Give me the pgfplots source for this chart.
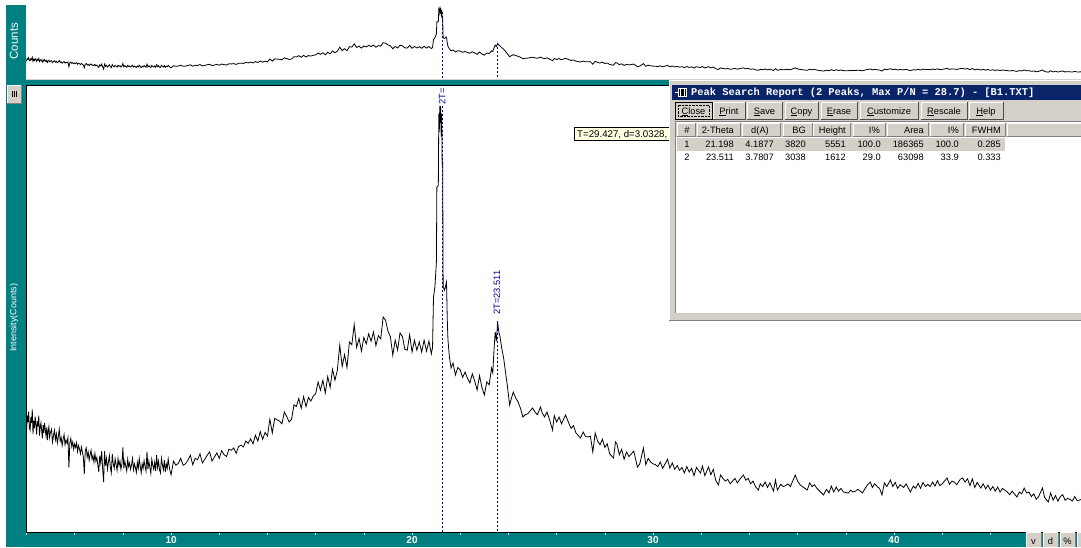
\documentclass[border=0pt]{standalone}
\usepackage{fontspec}
\usepackage{pgfplots}
\usepackage{pgfplotstable}
\pgfplotsset{compat=1.18}
\setmainfont{Liberation Sans}
\setsansfont{Liberation Sans}
\newfontfamily\winmono{Liberation Mono}
\definecolor{panel}{HTML}{008080}
\definecolor{winface}{HTML}{D4D0C8}
\definecolor{winshade}{HTML}{808080}
\definecolor{titleblue}{HTML}{0A246A}
\definecolor{tipyellow}{HTML}{FFFFE1}
\definecolor{peakblue}{HTML}{0000A0}
\newcommand{\fs}[1]{\fontsize{#1}{#1}\selectfont}

% scan: 2-theta, counts
\pgfplotstableread[row sep=\\]{
x y\\%
4.00 2180\\4.03 2560\\4.06 2420\\4.09 2650\\4.12 2300\\4.15 2240\\4.18 2520\\4.21 2400\\4.24 2700\\4.27 2160\\%
4.30 2450\\4.33 2280\\4.36 2540\\4.39 2380\\4.42 2150\\4.45 2440\\4.48 2320\\4.51 2560\\4.54 2120\\4.57 2300\\%
4.60 2400\\4.63 2240\\4.66 2060\\4.69 2350\\4.72 2180\\4.75 2400\\4.78 2250\\4.81 2120\\4.84 2300\\4.87 2020\\%
4.90 2220\\4.93 2320\\4.96 2080\\4.99 2180\\5.04 2260\\5.08 1980\\5.12 2120\\5.16 2240\\5.20 2030\\5.24 2160\\%
5.28 1960\\5.32 2090\\5.36 2260\\5.40 2000\\5.44 2080\\5.48 1900\\5.52 2040\\5.56 2140\\5.60 1920\\5.64 2020\\%
5.68 1960\\5.72 2070\\5.76 1420\\5.80 1960\\5.84 2060\\5.88 1880\\5.92 1980\\5.96 1820\\6.00 1940\\6.04 1860\\%
6.08 1960\\6.12 1770\\6.16 1900\\6.20 1820\\6.24 1720\\6.28 1870\\6.32 1760\\6.36 1640\\6.40 1280\\6.44 1790\\%
6.48 1850\\6.52 1650\\6.56 1760\\6.60 1580\\6.64 1700\\6.68 1800\\6.72 1600\\6.76 1680\\6.80 1540\\6.84 1730\\%
6.88 1560\\6.92 1640\\6.96 1480\\7.00 1320\\7.04 1680\\7.08 1520\\7.12 1780\\7.16 1400\\7.20 1100\\7.24 1780\\%
7.28 1460\\7.32 1620\\7.36 1380\\7.40 1540\\7.44 1680\\7.48 1420\\7.52 1300\\7.56 1720\\7.60 1500\\7.64 1400\\%
7.68 1610\\7.72 1480\\7.76 1360\\7.80 1620\\7.84 1460\\7.88 1560\\7.92 1380\\7.96 1500\\8.00 1860\\8.04 1400\\%
8.08 1560\\8.12 1450\\8.16 1340\\8.20 1600\\8.24 1440\\8.28 1520\\8.32 1380\\8.36 1480\\8.40 1620\\8.44 1370\\%
8.48 1500\\8.52 1420\\8.56 1310\\8.60 1530\\8.64 1400\\8.68 1620\\8.72 1450\\8.76 1300\\8.80 1500\\8.84 1400\\%
8.88 1570\\8.92 1440\\8.96 1340\\9.00 1770\\9.04 1380\\9.08 1560\\9.12 1420\\9.16 1290\\9.20 1600\\9.24 1470\\%
9.28 1380\\9.32 1530\\9.36 1340\\9.40 1690\\9.44 1420\\9.48 1560\\9.52 1370\\9.56 1300\\9.60 1620\\9.64 1480\\%
9.68 1370\\9.72 1580\\9.76 1320\\9.80 1500\\9.84 1400\\9.88 1610\\9.92 1450\\9.96 1340\\%
10.0 1260\\10.1 1560\\10.2 1470\\10.3 1510\\10.4 1620\\10.5 1470\\10.6 1500\\10.7 1580\\10.8 1690\\10.9 1480\\%
11.0 1620\\11.1 1590\\11.2 1720\\11.3 1520\\11.4 1600\\11.5 1690\\11.6 1760\\11.7 1560\\11.8 1650\\11.9 1740\\%
12.0 1620\\12.1 1790\\12.2 1700\\12.3 1660\\12.4 1820\\12.5 1800\\12.6 1850\\12.7 1730\\12.8 1880\\12.9 1910\\%
13.0 1870\\13.1 2000\\13.2 1950\\13.3 2050\\13.4 1940\\13.5 2130\\13.6 2000\\13.7 2210\\13.8 2040\\13.9 2190\\%
14.0 2110\\14.1 2480\\14.2 2180\\14.3 2500\\14.4 2470\\14.5 2440\\14.6 2380\\14.7 2640\\14.8 2540\\14.9 2420\\%
15.0 2480\\15.1 2800\\15.2 2760\\15.3 2940\\15.4 2720\\15.5 2980\\15.6 2760\\15.7 2960\\15.8 2880\\15.9 2990\\%
16.0 3040\\16.1 3300\\16.2 3120\\16.3 3340\\16.4 3060\\16.5 3420\\16.6 3180\\16.7 3580\\16.8 3340\\16.9 3560\\%
17.0 4110\\17.1 3640\\17.2 3900\\17.3 3620\\17.4 4180\\17.5 4120\\17.6 4560\\17.7 4060\\17.8 4260\\17.9 3980\\%
18.0 4280\\18.1 4140\\18.2 4360\\18.3 4200\\18.4 4400\\18.5 4100\\18.6 4320\\18.7 4250\\18.8 4730\\18.9 4660\\%
19.0 4420\\19.1 4300\\19.2 3890\\19.3 4220\\19.4 4000\\19.5 4380\\19.6 4300\\19.7 4020\\19.8 4000\\19.9 4340\\%
20.0 3960\\20.1 4220\\20.2 4000\\20.3 4180\\20.4 3960\\20.5 4220\\20.6 3980\\20.7 4200\\20.8 3920\\20.85 4060\\%
20.89 5170\\20.95 5400\\21.01 5940\\21.03 7590\\21.09 7620\\21.11 9200\\21.13 8800\\21.15 9371\\21.17 9000\\21.19 9371\\%
21.21 8700\\21.23 9200\\21.25 8100\\21.27 8120\\21.29 5390\\21.35 5320\\21.43 5500\\21.46 4700\\21.49 4224\\21.55 3850\\%
21.62 3608\\21.7 3718\\21.8 3454\\21.9 3620\\22.0 3564\\22.1 3400\\22.2 3520\\22.3 3380\\22.4 3278\\22.5 3480\\%
22.6 3320\\22.7 3124\\22.8 3440\\22.9 3180\\23.0 3014\\23.1 3300\\23.2 3240\\23.3 3608\\23.35 3500\\23.4 4004\\%
23.45 4400\\23.5 4200\\23.55 4620\\23.6 4400\\23.65 4300\\23.72 4048\\23.8 3828\\23.95 3234\\24.05 2794\\24.1 2900\\%
24.2 3080\\24.3 2950\\24.4 2860\\24.5 2720\\24.6 2530\\24.7 2580\\24.8 2600\\25.0 2728\\25.1 2640\\25.2 2580\\%
25.33 2750\\25.4 2620\\25.5 2530\\25.6 2640\\25.7 2480\\25.83 2244\\25.9 2560\\26.0 2420\\26.1 2530\\26.2 2380\\%
26.37 2574\\26.5 2400\\26.6 2280\\26.7 2340\\26.8 2180\\26.99 2068\\27.1 2200\\27.2 2100\\27.3 2090\\27.4 2110\\%
27.5 1760\\27.6 2178\\27.7 2000\\27.8 1920\\27.9 2040\\28.0 1860\\28.1 1940\\28.2 1720\\28.36 1628\\28.44 1980\\%
28.5 1940\\28.6 1700\\28.7 1820\\28.8 1600\\28.9 1760\\29.0 1660\\29.1 1720\\29.2 1780\\29.35 1430\\29.45 1500\\%
29.6 1848\\29.7 1480\\29.8 1620\\29.9 1540\\30.0 1500\\30.1 1480\\30.2 1440\\30.3 1540\\30.4 1400\\30.6 1600\\%
30.7 1408\\30.8 1520\\30.9 1380\\31.0 1460\\31.1 1360\\31.2 1420\\31.3 1300\\31.4 1440\\31.5 1320\\31.6 1400\\%
31.7 1240\\31.8 1420\\31.97 1298\\32.05 1450\\32.15 1240\\32.3 1430\\32.4 1260\\32.5 1380\\32.6 1140\\32.71 1034\\%
32.8 1254\\32.9 1180\\33.0 1120\\33.1 1160\\33.2 1060\\33.3 1120\\33.4 1180\\33.5 1080\\33.6 1160\\33.75 1254\\%
33.85 1140\\33.95 1180\\34.05 1060\\34.15 1120\\34.25 1000\\34.37 924\\34.45 1060\\34.55 1000\\34.65 1100\\34.75 980\\%
34.85 1080\\35.0 900\\35.08 1144\\35.16 924\\35.3 1050\\35.4 1000\\35.5 1020\\35.6 1060\\35.7 1000\\35.9 1254\\%
36.0 1120\\36.1 1040\\36.2 1000\\36.4 924\\36.5 1080\\36.6 1000\\36.7 1040\\36.8 960\\36.95 880\\37.07 814\\%
37.2 940\\37.3 860\\37.4 1010\\37.5 880\\37.6 990\\37.7 900\\37.8 960\\37.9 880\\38.1 858\\38.2 920\\%
38.3 880\\38.4 900\\38.5 940\\38.69 860\\38.8 960\\38.9 1040\\39.02 1100\\39.1 980\\39.2 1060\\39.3 1000\\%
39.4 960\\39.5 814\\39.6 1080\\39.7 1000\\39.85 1144\\39.95 1000\\40.05 1090\\40.15 960\\40.25 1040\\40.4 980\\%
40.5 1060\\40.68 880\\40.8 1010\\40.9 960\\41.0 1070\\41.1 960\\41.2 1090\\41.3 1000\\41.4 1050\\41.5 1000\\%
41.6 1100\\41.7 1010\\41.8 1130\\41.9 1020\\42.0 1060\\42.2 1188\\42.3 1050\\42.4 1120\\42.5 1100\\42.6 1040\\%
42.75 1160\\42.84 1188\\42.95 1100\\43.05 1170\\43.15 1020\\43.25 1170\\43.35 980\\43.45 1090\\43.6 968\\43.7 1060\\%
43.8 950\\43.9 1030\\44.0 920\\44.1 1000\\44.2 900\\44.3 990\\44.4 880\\44.5 960\\44.6 920\\44.7 880\\%
44.8 820\\44.9 900\\45.1 770\\45.2 880\\45.3 840\\45.4 968\\45.5 860\\45.6 880\\45.7 780\\45.8 840\\%
45.9 720\\46.0 780\\46.16 968\\46.25 760\\46.4 660\\46.5 860\\46.6 700\\46.7 800\\46.8 680\\46.9 780\\%
47.0 820\\47.1 700\\47.2 740\\47.3 720\\47.4 680\\47.5 780\\47.6 690\\47.7 704\\47.8 720\\%
}\scan

\begin{document}
\begin{tikzpicture}
\useasboundingbox (0,0) rectangle (1081pt,-547pt);
\clip (0,0) rectangle (1081pt,-547pt);
\fill[white] (0,0) rectangle (1081pt,-547pt);

% teal frame round the two plot areas
\begin{scope}[x=1pt,y=-1pt]
\fill[panel] (6,5) rectangle (26,547);
\fill[panel] (6,532) rectangle (1081,547);
\fill[panel] (26,79) rectangle (1081,85);
\fill[winface] (26,78.5) rectangle (1081,79.5);
\draw[black, line width=0.9pt] (26,85) -- (1081,85);
\end{scope}

% overview strip
\begin{axis}[
  at={(26pt,-79pt)}, anchor=south west, scale only axis,
  width=1055pt, height=74pt,
  xmin=3.98, xmax=47.76, ymin=-275, ymax=9922,
  axis line style={draw=none}, ticks=none,
  ylabel={Counts},
  ylabel style={at={(axis description cs:-0.0114,0.51)}, anchor=center, rotate=0,
    text=white, font=\fs{11.5}},
]
\addplot[black, line width=0.8pt] table {\scan};
\addplot[peakblue, dash pattern=on 2pt off 2pt, line width=0.5pt, xshift=1pt] coordinates {(21.198,9000) (21.198,-275)};
\addplot[peakblue, dash pattern=on 2pt off 2pt, line width=0.5pt, xshift=1pt] coordinates {(23.511,4650) (23.511,-275)};
\end{axis}

% main pattern
\begin{axis}[
  at={(26pt,-532pt)}, anchor=south west, scale only axis,
  width=1055pt, height=447pt,
  xmin=3.98, xmax=47.76, ymin=0, ymax=9834,
  axis x line*=bottom, axis y line*=left,
  axis line style={black, line width=0.8pt, -},
  ytick=\empty,
  xtick={10,20,30,40},
  minor xtick={4,6,8,12,14,16,18,22,24,26,28,32,34,36,38,42,44},
  tick style={white, line width=0.6pt},
  major tick length=3pt, minor tick length=3pt,
  tick align=outside, tick pos=bottom,
  /pgf/number format/assume math mode=true,
  xticklabel style={text=white, font=\bfseries\fs{10}, yshift=2pt},
  ylabel={Intensity(Counts)},
  ylabel style={at={(axis description cs:-0.0114,0.479)}, anchor=center, rotate=0,
    text=white, font=\fs{9}},
]
\addplot[black, line width=0.8pt] table {\scan};
\addplot[peakblue, dash pattern=on 2pt off 2pt, line width=0.5pt, xshift=1pt] coordinates {(21.198,9371) (21.198,0)};
\addplot[peakblue, dash pattern=on 2pt off 2pt, line width=0.5pt, xshift=1pt] coordinates {(23.511,4650) (23.511,0)};
\end{axis}

\begin{scope}[x=1pt,y=-1pt, every node/.style={inner sep=0pt, font=\fs{9.3}}]
% peak labels
\fill[white] (436,86) rectangle (448,104);
\node[rotate=90, text=peakblue, anchor=east] at (442,88) {2T=};
\node[rotate=90, text=peakblue, anchor=west] at (497,315) {2T=23.511};
% splitter button
\fill[winface] (7,85) rectangle (21,103);
\draw[white] (7,103) -- (7,85) -- (21,85);
\draw[winshade] (21,85) -- (21,103) -- (7,103);
\draw[black, line width=0.5pt] (12,91) -- (12,97) (14,91) -- (14,97) (16,91) -- (16,97);
% v d % buttons
\foreach \a/\b/\t in {1026/1041/v,1043/1058/d,1060/1075/\%,1077/1090/{}} {
  \fill[winface] (\a,532.5) rectangle (\b,547);
  \draw[white] (\a,547) -- (\a,532.5) -- (\b,532.5);
  \draw[winshade] (\b,532.5) -- (\b,547);
  \node[anchor=base] at ({(\a+\b)/2},544) {\t};
}
% tooltip
\draw[black, fill=tipyellow, line width=0.6pt] (574.5,127.5) rectangle (675,140.5);
\node[anchor=base west, font=\fs{9.7}] at (577,137.5) {T=29.427, d=3.0328,};

% peak search window
\fill[winface] (669,80) rectangle (1085,321);
\draw[white, line width=0.8pt] (669.5,321) -- (669.5,80.5) -- (1085,80.5);
\draw[winshade, line width=1.2pt] (669,320.5) -- (1085,320.5);
\fill[titleblue] (672,84.5) rectangle (1085,100);
\node[anchor=west, text=white, font=\winmono\bfseries\fs{10.4}] at (691,92.5)
  {Peak Search Report (2 Peaks, Max P/N = 28.7) - [B1.TXT]};
% title icon
\draw[white, line width=0.7pt] (675,92.5) -- (678,92.5);
\draw[white, fill=black, line width=0.6pt] (678.5,88.5) rectangle (686,96.5);
\draw[white, line width=0.6pt] (680,88.5) -- (680,96.5) (684,88.5) -- (684,96.5);
% toolbar buttons
\foreach \a/\b/\t in {675/712/\underline{C}lose,713/745/\underline{P}rint,747/782/\underline{S}ave,785/818/\underline{C}opy,821/857/\underline{E}rase,
                      860/918/\underline{C}ustomize,921/967/\underline{R}escale,969/1003/\underline{H}elp} {
  \draw[white] (\a,119) -- (\a,102) -- (\b,102);
  \draw[black!70] (\b,102) -- (\b,119) -- (\a,119);
  \node[anchor=base] at ({(\a+\b)/2},114) {\t};
}
\draw[black] (675,102) rectangle (712,119);
\draw[black, densely dotted, line width=0.4pt] (678,105) rectangle (709,116);
% list area
\fill[white] (676,122) rectangle (1085,313);
\draw[winshade, line width=0.8pt] (675.5,313) -- (675.5,121.5) -- (1085,121.5);
\fill[winface] (676,122.5) rectangle (1085,137);
\foreach \a/\b in {677/695,697/740,742/780,783/812,813/850,853/885,887/928,930/963,965/1005,1007/1085} {
  \draw[white] (\a,136.5) -- (\a,123) -- (\b,123);
  \draw[winshade] (\b,123) -- (\b,136.5) -- (\a,136.5);
}
\fill[winface] (677,137.5) rectangle (1005,150.5);
% table text
\node[anchor=base] at (687,133) {\#};
\foreach \r/\t in {734/2-Theta,769/d(A),806/BG,846/Height,880/I\%,924/Area,959/I\%,1001/FWHM}
  \node[anchor=base east] at (\r,133) {\t};
\node[anchor=base] at (687,147.5) {1};
\foreach \r/\t in {734/21.198,774/4.1877,806/3820,846/5551,881/100.0,924/186365,959/100.0,1001/0.285}
  \node[anchor=base east] at (\r,147.5) {\t};
\node[anchor=base] at (687,160.5) {2};
\foreach \r/\t in {734/23.511,774/3.7807,806/3038,846/1612,881/29.0,924/63098,959/33.9,1001/0.333}
  \node[anchor=base east] at (\r,160.5) {\t};
\end{scope}
\end{tikzpicture}
\end{document}
